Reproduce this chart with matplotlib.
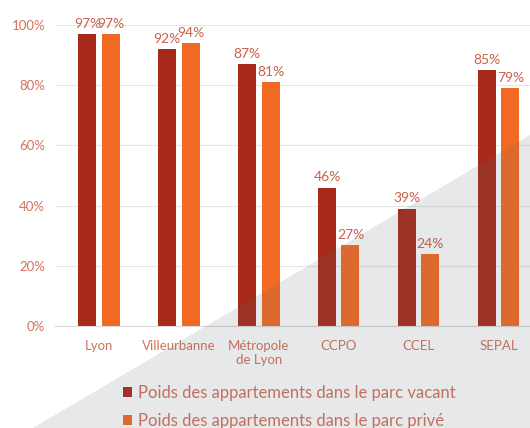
import matplotlib
matplotlib.use("Agg")
import matplotlib.pyplot as plt
from matplotlib.patches import Polygon
from matplotlib.ticker import PercentFormatter
import numpy as np

plt.rcParams["font.family"] = ["Lato", "DejaVu Sans"]

categories = ["Lyon", "Villeurbanne", "Métropole\nde Lyon", "CCPO", "CCEL", "SEPAL"]
vacant = [0.97, 0.92, 0.87, 0.46, 0.39, 0.85]
prive = [0.97, 0.94, 0.81, 0.27, 0.24, 0.79]
series_names = [
    "Poids des appartements dans le parc vacant",
    "Poids des appartements dans le parc privé",
]

dark = "#a8291a"
orange = "#f26a22"
text_col = "#d5715a"
label_col = "#c9604c"

fig = plt.figure(figsize=(5.30, 4.28), dpi=100)
ax = fig.add_axes([55 / 530, 102 / 428, 475 / 530, 301 / 428])

x = np.arange(len(categories))
w = 0.225
off = 0.145
b1 = ax.bar(x - off, vacant, w, color=dark, zorder=2, label=series_names[0])
b2 = ax.bar(x + off, prive, w, color=orange, zorder=2, label=series_names[1])

for bars, vals in ((b1, vacant), (b2, prive)):
    for rect, v in zip(bars, vals):
        ax.annotate(f"{round(v * 100)}%", (rect.get_x() + rect.get_width() / 2, v),
                    xytext=(0, 3), textcoords="offset points", ha="center", va="bottom",
                    fontsize=10, color=label_col, annotation_clip=False)

ax.set_xlim(-0.55, 5.39)
ax.set_ylim(0, 1.0)
ax.set_yticks(np.arange(0, 1.01, 0.2))
ax.yaxis.set_major_formatter(PercentFormatter(1.0, decimals=0))
ax.set_xticks(x)
ax.set_xticklabels(categories)
ax.tick_params(axis="both", length=0, colors=text_col, labelsize=9.5)
ax.tick_params(axis="x", pad=10)
ax.tick_params(axis="y", pad=7)
ax.grid(axis="y", color="#e6e6e6", linewidth=0.8, zorder=0)
for side in ("top", "right", "left"):
    ax.spines[side].set_visible(False)
ax.spines["bottom"].set_color("#d9d9d9")

leg = fig.legend(handles=[b1, b2], loc="center left",
                 bbox_to_anchor=(108 / 530, 1 - 407 / 428),
                 frameon=False, fontsize=12, handlelength=0.55, handleheight=0.55,
                 handletextpad=0.35, labelspacing=0.75)
for t in leg.get_texts():
    t.set_color(text_col)

# grey diagonal overlay in the lower right corner
overlay = Polygon([(33 / 530, 0), (1, 1 - 135 / 428), (1, 0)], closed=True,
                  transform=fig.transFigure, facecolor="#5f6670", alpha=0.15,
                  edgecolor="none", zorder=10)
fig.add_artist(overlay)

fig.savefig("out.png", dpi=100)
